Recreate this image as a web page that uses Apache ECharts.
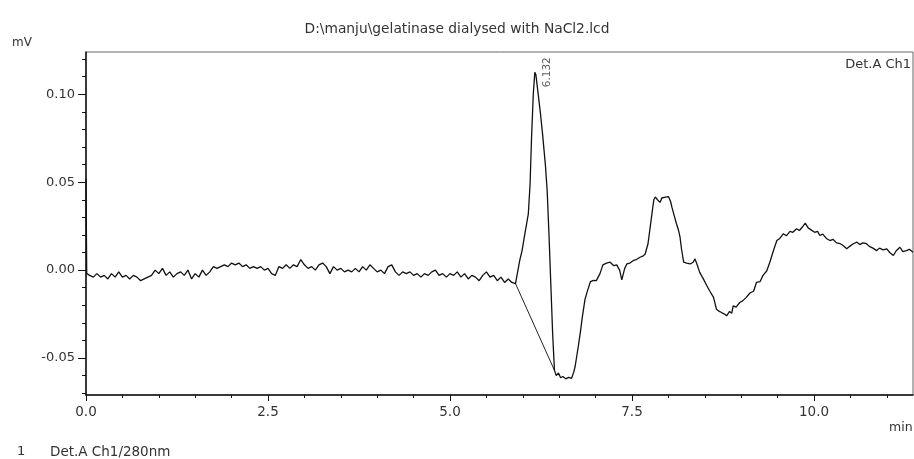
<!DOCTYPE html>
<html>
<head>
<meta charset="utf-8">
<script src="https://cdn.jsdelivr.net/npm/echarts@6/dist/echarts.min.js"></script>
<style>html,body{margin:0;padding:0;background:#fff}#c{width:914px;height:459px}</style>
</head>
<body>
<div id="c"></div>
<script>
// ---- data (time in min, signal in mV) ----
const titleText = 'D:\\manju\\gelatinase dialysed with NaCl2.lcd';
const peakTime = 6.132;
const peakValue = 0.1125;
const xTicks = [0, 2.5, 5, 7.5, 10];
const xMinorTicks = [0.5,1,1.5,2,3,3.5,4,4.5,5.5,6,6.5,7,8,8.5,9,9.5,10.5,11];
const yTicks = [-0.05, 0, 0.05, 0.10];
const yMinorTicks = [-0.07,-0.06,-0.04,-0.03,-0.02,-0.01,0.01,0.02,0.03,0.04,0.06,0.07,0.08,0.09,0.11,0.12];
const integrationBaseline = [[5.90,-0.0077],[6.435,-0.057]];
const chromatogram = [
[0.00,0.052],[0.01,-0.002],[0.05,-0.003],[0.10,-0.004],[0.15,-0.002],[0.20,-0.004],[0.25,-0.003],[0.30,-0.005],[0.35,-0.002],[0.40,-0.004],
[0.45,-0.001],[0.50,-0.004],[0.55,-0.003],[0.60,-0.005],[0.65,-0.003],[0.70,-0.004],[0.75,-0.006],[0.80,-0.005],[0.85,-0.004],[0.90,-0.003],
[0.95,0.000],[1.00,-0.002],[1.05,0.001],[1.10,-0.003],[1.15,-0.001],[1.20,-0.004],[1.25,-0.002],[1.30,-0.001],[1.35,-0.003],[1.40,0.000],
[1.45,-0.005],[1.50,-0.002],[1.55,-0.004],[1.60,0.000],[1.65,-0.003],[1.70,-0.001],[1.75,0.002],[1.80,0.001],[1.85,0.002],[1.90,0.003],
[1.95,0.002],[2.00,0.004],[2.05,0.003],[2.10,0.004],[2.15,0.002],[2.20,0.003],[2.25,0.001],[2.30,0.002],[2.35,0.001],[2.40,0.002],
[2.45,0.000],[2.50,0.001],[2.55,-0.002],[2.60,-0.003],[2.65,0.002],[2.70,0.001],[2.75,0.003],[2.80,0.001],[2.85,0.003],[2.90,0.002],
[2.95,0.006],[3.00,0.003],[3.05,0.001],[3.10,0.002],[3.15,0.000],[3.20,0.003],[3.25,0.004],[3.30,0.002],[3.35,-0.002],[3.40,0.002],
[3.45,0.000],[3.50,0.001],[3.55,-0.001],[3.60,0.000],[3.65,-0.001],[3.70,0.001],[3.75,-0.001],[3.80,0.002],[3.85,0.000],[3.90,0.003],
[3.95,0.001],[4.00,-0.001],[4.05,0.000],[4.10,-0.002],[4.15,0.002],[4.20,0.003],[4.25,-0.001],[4.30,-0.003],[4.35,-0.001],[4.40,-0.002],
[4.45,-0.001],[4.50,-0.003],[4.55,-0.002],[4.60,-0.004],[4.65,-0.002],[4.70,-0.003],[4.75,-0.001],[4.80,0.000],[4.85,-0.003],[4.90,-0.002],
[4.95,-0.004],[5.00,-0.002],[5.05,-0.003],[5.10,-0.001],[5.15,-0.004],[5.20,-0.002],[5.25,-0.005],[5.30,-0.003],[5.35,-0.004],[5.40,-0.006],
[5.45,-0.003],[5.50,-0.001],[5.55,-0.004],[5.60,-0.003],[5.65,-0.006],[5.70,-0.004],[5.75,-0.007],[5.80,-0.005],[5.85,-0.007],[5.90,-0.0077],
[5.96,0.006],[5.99,0.011],[6.03,0.021],[6.076,0.032],[6.10,0.049],[6.12,0.075],[6.144,0.100],[6.165,0.1125],[6.18,0.111],[6.20,0.104],
[6.24,0.090],[6.27,0.078],[6.31,0.060],[6.335,0.045],[6.36,0.020],[6.385,-0.008],[6.41,-0.036],[6.435,-0.057],
[6.46,-0.0600],[6.49,-0.0585],[6.52,-0.0612],[6.55,-0.0605],[6.59,-0.0618],[6.63,-0.0610],[6.67,-0.0615],[6.70,-0.0580],[6.72,-0.0545],[6.76,-0.044],
[6.79,-0.0355],[6.82,-0.026],[6.855,-0.0165],[6.89,-0.0115],[6.93,-0.0065],[6.97,-0.0058],[7.01,-0.006],[7.06,-0.002],[7.10,0.0030],[7.15,0.0040],
[7.20,0.0045],[7.25,0.0025],[7.29,0.0030],[7.33,0.0000],[7.36,-0.0055],[7.40,0.0010],[7.43,0.0035],[7.47,0.0040],[7.52,0.0055],[7.56,0.0060],
[7.61,0.0073],[7.65,0.0080],[7.68,0.0090],[7.72,0.0150],[7.75,0.0244],[7.78,0.0340],[7.80,0.0400],[7.82,0.0416],[7.85,0.0400],[7.885,0.0385],
[7.91,0.0410],[7.93,0.0420],[7.96,0.0415],[8.00,0.0418],[8.03,0.0390],[8.05,0.0355],[8.08,0.0310],[8.11,0.0265],[8.14,0.0225],[8.16,0.0187],
[8.18,0.0120],[8.21,0.0045],[8.25,0.0040],[8.30,0.0035],[8.34,0.0045],[8.365,0.0064],[8.40,0.0025],[8.43,-0.0013],[8.48,-0.0050],[8.53,-0.0090],
[8.57,-0.0120],[8.62,-0.0155],[8.66,-0.0222],[8.70,-0.0235],[8.73,-0.0241],[8.77,-0.0250],[8.80,-0.0260],[8.84,-0.0235],[8.87,-0.0245],[8.89,-0.0203],
[8.93,-0.0210],[8.98,-0.0184],[9.02,-0.0175],[9.07,-0.0155],[9.12,-0.0130],[9.17,-0.0120],[9.21,-0.0070],[9.26,-0.0065],[9.30,-0.0030],[9.35,-0.0005],
[9.39,0.0040],[9.42,0.0080],[9.45,0.0120],[9.49,0.0168],[9.53,0.0180],[9.58,0.0207],[9.62,0.0195],[9.67,0.0220],[9.71,0.0215],[9.76,0.0235],
[9.80,0.0225],[9.84,0.0245],[9.88,0.0267],[9.92,0.0240],[9.97,0.0226],[10.01,0.0215],[10.05,0.0220],[10.08,0.0197],[10.12,0.0205],[10.17,0.0180],
[10.22,0.0168],[10.26,0.0175],[10.31,0.0155],[10.36,0.0150],[10.40,0.0140],[10.45,0.0121],[10.49,0.0135],[10.54,0.0150],[10.59,0.0159],[10.63,0.0145],
[10.67,0.0155],[10.72,0.0150],[10.76,0.0135],[10.81,0.0125],[10.86,0.0111],[10.90,0.0125],[10.95,0.0115],[11.00,0.0121],[11.04,0.0100],[11.09,0.0083],
[11.13,0.0110],[11.18,0.0130],[11.22,0.0105],[11.27,0.0111],[11.31,0.0118],[11.36,0.0102]
];

const FONT = '"DejaVu Sans", Verdana, sans-serif';
const TXT = '#333';
const X_MIN = 0, X_MAX = 11.36, Y_MIN = -0.071, Y_MAX = 0.124;

const chart = echarts.init(document.getElementById('c'), null, {renderer: 'canvas'});
chart.setOption({
  animation: false,
  backgroundColor: '#fff',
  textStyle: {fontFamily: FONT},
  title: {
    text: titleText, left: 'center', top: 17,
    textStyle: {fontSize: 13.8, fontWeight: 'normal', color: TXT, fontFamily: FONT}
  },
  grid: {left: 86, right: 1, top: 52, bottom: 64, show: true, borderColor: '#666', borderWidth: 1, backgroundColor: 'transparent'},
  xAxis: [
    {type: 'value', min: X_MIN, max: X_MAX, position: 'bottom',
     axisLine: {show: true, onZero: false, lineStyle: {color: '#111', width: 1.5}},
     axisTick: {show: true, customValues: xTicks, length: 6, lineStyle: {color: '#111'}},
     axisLabel: {show: true, customValues: xTicks, margin: 10, fontSize: 13.5, color: TXT, fontFamily: FONT,
                 formatter: v => v.toFixed(1)},
     splitLine: {show: false}},
    {type: 'value', min: X_MIN, max: X_MAX, position: 'bottom',
     axisLine: {show: false, onZero: false},
     axisTick: {show: true, customValues: xMinorTicks, length: 3, lineStyle: {color: '#111'}},
     axisLabel: {show: false}, splitLine: {show: false}}
  ],
  yAxis: [
    {type: 'value', min: Y_MIN, max: Y_MAX, position: 'left',
     axisLine: {show: true, onZero: false, lineStyle: {color: '#111', width: 1.5}},
     axisTick: {show: true, customValues: yTicks, length: 8, lineStyle: {color: '#111'}},
     axisLabel: {show: true, customValues: yTicks, margin: 11, fontSize: 13, color: TXT, fontFamily: FONT,
                 formatter: v => v.toFixed(2)},
     splitLine: {show: false}},
    {type: 'value', min: Y_MIN, max: Y_MAX, position: 'left',
     axisLine: {show: false, onZero: false},
     axisTick: {show: true, customValues: yMinorTicks, length: 4, lineStyle: {color: '#111'}},
     axisLabel: {show: false}, splitLine: {show: false}}
  ],
  series: [
    {type: 'line', name: 'Det.A Ch1/280nm', data: chromatogram, showSymbol: false, smooth: false,
     lineStyle: {color: '#111', width: 1.3}, z: 3},
    {type: 'line', name: 'baseline', data: integrationBaseline, showSymbol: false,
     lineStyle: {color: '#222', width: 1}, z: 2},
    {type: 'scatter', name: 'peak', data: [[peakTime, peakValue]], symbolSize: 0, z: 4,
     label: {show: true, formatter: peakTime.toFixed(3), rotate: 90, position: 'inside', offset: [0, 15],
             fontSize: 10.5, color: TXT, fontFamily: FONT}}
  ],
  graphic: [
    {type: 'text', left: 12, top: 37, style: {text: 'mV', fill: TXT, font: '12px ' + FONT}},
    {type: 'text', right: 3, top: 58, style: {text: 'Det.A Ch1', fill: TXT, font: '13px ' + FONT}},
    {type: 'text', left: 889, top: 421, style: {text: 'min', fill: TXT, font: '12.5px ' + FONT}},
    {type: 'text', left: 17, top: 445, style: {text: '1', fill: TXT, font: '13px ' + FONT}},
    {type: 'text', left: 50, top: 445, style: {text: 'Det.A Ch1/280nm', fill: TXT, font: '13.5px ' + FONT}}
  ]
});
</script>
</body>
</html>
